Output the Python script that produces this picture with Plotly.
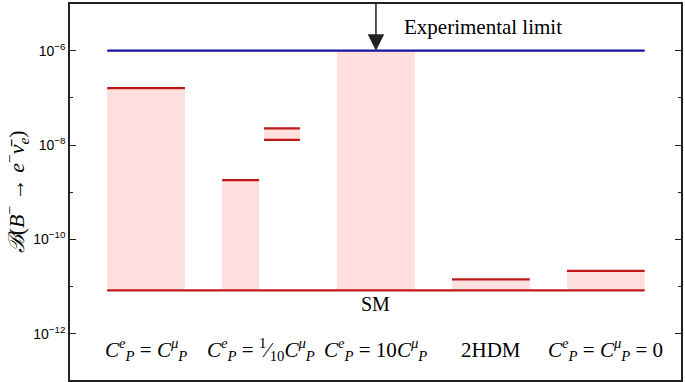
import plotly.graph_objects as go

# ---- data ----
categories = ["C_P^e = C_P^mu", "C_P^e = 1/10 C_P^mu", "C_P^e = 10 C_P^mu", "2HDM", "C_P^e = C_P^mu = 0"]
cat_labels = [
    "<i>C</i><sup><i>e</i></sup><sub><i>P</i></sub> = <i>C</i><sup><i>μ</i></sup><sub><i>P</i></sub>",
    "<i>C</i><sup><i>e</i></sup><sub><i>P</i></sub> = <sup>1</sup>⁄<sub>10</sub><i>C</i><sup><i>μ</i></sup><sub><i>P</i></sub>",
    "<i>C</i><sup><i>e</i></sup><sub><i>P</i></sub> = 10<i>C</i><sup><i>μ</i></sup><sub><i>P</i></sub>",
    "2HDM",
    "<i>C</i><sup><i>e</i></sup><sub><i>P</i></sub> = <i>C</i><sup><i>μ</i></sup><sub><i>P</i></sub> = 0",
]
sm_value = 8.3e-12
exp_limit = 1.0e-6
bar_tops = [1.61e-7, 1.81e-9, 1.0e-6, 1.42e-11, 2.15e-11]      # upper reach from SM
band_low = 1.29e-8     # second solution band in category 2
band_high = 2.25e-8
tick_vals = [1e-6, 1e-8, 1e-10, 1e-12]
tick_text = ["10<sup>−6</sup>", "10<sup>−8</sup>", "10<sup>−10</sup>", "10<sup>−12</sup>"]
minor_vals = [1e-7, 1e-9, 1e-11]

# ---- layout constants ----
xc = [1, 2, 3, 4, 5]
half = 0.338
red = "#BE1A1A"
blue = "#1414A0"
pink = "rgba(255,222,222,1)"

fig = go.Figure()

widths = [2 * half, 0.321, 2 * half, 2 * half, 2 * half]
offsets = [-half, -half, -half, -half, -half]
fig.add_trace(go.Bar(
    x=xc, y=[t - sm_value for t in bar_tops], base=[sm_value] * 5,
    width=widths, offset=offsets, marker=dict(color=pink, line=dict(width=0)),
    hoverinfo="skip", showlegend=False))
fig.add_trace(go.Bar(
    x=[xc[1]], y=[band_high - band_low], base=[band_low],
    width=[0.312], offset=[0.026], marker=dict(color=pink, line=dict(width=0)),
    hoverinfo="skip", showlegend=False))

lx, ly = [], []
for i, c in enumerate(xc):
    if i == 2:
        continue
    x0 = c + offsets[i]
    x1 = x0 + widths[i]
    lx += [x0, x1, None]
    ly += [bar_tops[i], bar_tops[i], None]
for v in (band_low, band_high):
    lx += [xc[1] + 0.026, xc[1] + 0.338, None]
    ly += [v, v, None]
fig.add_trace(go.Scatter(x=lx, y=ly, mode="lines", line=dict(color=red, width=2.2),
                         hoverinfo="skip", showlegend=False))
fig.add_trace(go.Scatter(x=[xc[0] - half, xc[-1] + half], y=[sm_value, sm_value], mode="lines",
                         line=dict(color=red, width=2.2), hoverinfo="skip", showlegend=False))
fig.add_trace(go.Scatter(x=[xc[0] - half, xc[-1] + half], y=[exp_limit, exp_limit], mode="lines",
                         line=dict(color=blue, width=2.2), hoverinfo="skip", showlegend=False))

serif = "Liberation Serif"
ann = []
for c, lab in zip(xc, cat_labels):
    ann.append(dict(x=c, y=-12.34, xref="x", yref="y", text=lab, showarrow=False,
                    font=dict(family=serif, size=21, color="black")))
ann.append(dict(x=3, y=-11.36, xref="x", yref="y", text="SM", showarrow=False,
                font=dict(family=serif, size=20, color="black")))
ann.append(dict(x=3.935, y=-5.5, xref="x", yref="y", text="Experimental limit", showarrow=False,
                font=dict(family=serif, size=21, color="black")))
ann.append(dict(x=3, y=-6, xref="x", yref="y", text="", showarrow=True, ax=0, ay=-49,
                arrowhead=2, arrowsize=2.2, arrowwidth=1.5, arrowcolor="#222222", standoff=0))
ann.append(dict(x=-0.088, y=0.5, xref="paper", yref="paper", textangle=-90,
                xanchor="center", yanchor="middle",
                text="<i>ℬ</i>(<i>B</i><sup>−</sup> → <i>e</i><sup>−</sup><i>ν̄</i><sub><i>e</i></sub>)",
                showarrow=False, font=dict(family=serif, size=22, color="black")))

fig.update_layout(
    width=685, height=382,
    margin=dict(l=70, r=2, t=2, b=2),
    plot_bgcolor="white", paper_bgcolor="white",
    barmode="overlay",
    annotations=ann,
    xaxis=dict(range=[0.338, 5.654], showgrid=False, zeroline=False, showticklabels=False,
               ticks="", showline=True, linecolor="#222222", linewidth=1.5, mirror=True),
    yaxis=dict(type="log", range=[-12.98, -5.01], showgrid=False, zeroline=False,
               tickvals=tick_vals, ticktext=tick_text, ticks="inside", ticklen=6, tickwidth=1.2,
               tickcolor="#222222",
               minor=dict(tickvals=minor_vals, ticks="inside", ticklen=3, tickwidth=1.2, tickcolor="#222222"),
               showline=True, linecolor="#222222", linewidth=1.5, mirror="ticks",
               tickfont=dict(family="Liberation Sans", size=14, color="black")),
)

fig.write_html("out.html", config={"displayModeBar": False},
               post_script="document.body.style.margin='0';document.body.style.padding='0';")
